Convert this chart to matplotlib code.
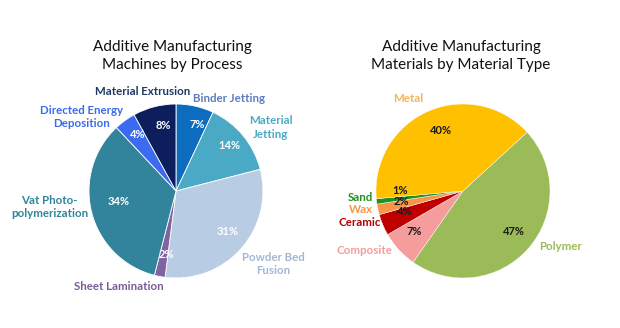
import matplotlib
matplotlib.use("Agg")
import matplotlib.pyplot as plt

plt.rcParams['font.family'] = ['Lato', 'DejaVu Sans']

# ---- Data ----
processes = ["Binder Jetting", "Material\nJetting", "Powder Bed\nFusion", "Sheet Lamination",
             "Vat Photo-\npolymerization", "Directed Energy\nDeposition", "Material Extrusion"]
process_pct = [7, 14, 31, 2, 34, 4, 8]

materials = ["Polymer", "Composite", "Ceramic", "Wax", "Sand", "Metal"]
material_pct = [47, 7, 4, 2, 1, 40]

# ---- Styles / layout ----
proc_colors = ["#0B6CC0", "#4AAAC6", "#B8CCE4", "#8064A2", "#31849B", "#3A6BF0", "#0C1E5B"]
proc_label_colors = ["#5A7DBE", "#4AAAC6", "#A3B7D3", "#7A5C9A", "#31849B", "#3A6BF0", "#1F3864"]
proc_label_pos = [(0.614, 1.06), (1.09, 0.73), (1.114, -0.84), (-0.66, -1.10),
                  (-1.455, -0.18), (-1.09, 0.85), (-0.386, 1.14)]
proc_pct_pos = [(0.239, 0.77), (0.614, 0.52), (0.59, -0.46), (-0.114, -0.73),
                (-0.66, -0.115), (-0.443, 0.645), (-0.148, 0.75)]

mat_colors = ["#9BBB59", "#F59C9C", "#C00000", "#F79646", "#23901F", "#FFC000"]
mat_label_colors = ["#9BBB59", "#F59C9C", "#B00000", "#F79646", "#23901F", "#F5B659"]
mat_label_pos = [(1.125, -0.64), (-1.136, -0.68), (-1.193, -0.36), (-1.17, -0.21),
                 (-1.18, -0.07), (-0.625, 1.06)]
mat_pct_pos = [(0.58, -0.47), (-0.557, -0.47), (-0.67, -0.24), (-0.705, -0.115),
               (-0.727, 0.0), (-0.25, 0.70)]

W, H = 620, 328
fig = plt.figure(figsize=(W / 100, H / 100), dpi=100)
fig.patch.set_facecolor("white")

R = 87

def make_ax(cx, cy):
    return fig.add_axes([(cx - R) / W, (H - cy - R) / H, 2 * R / W, 2 * R / H])

# Left pie
ax1 = make_ax(176, 191)
ax1.pie(process_pct, colors=proc_colors, startangle=90, counterclock=False, radius=1,
        wedgeprops=dict(edgecolor="white", linewidth=0.6))
ax1.set_xlim(-1, 1); ax1.set_ylim(-1, 1); ax1.set_aspect("equal"); ax1.axis("off")
for name, v, c, lp, pp in zip(processes, process_pct, proc_label_colors, proc_label_pos, proc_pct_pos):
    ax1.text(*lp, name, color=c, fontsize=8.3, fontweight="bold", ha="center", va="center",
             linespacing=1.25, clip_on=False)
    ax1.text(*pp, f"{v}%", color="white", fontsize=8, fontweight="bold", ha="center", va="center")

fig.text(172 / W, 1 - 56 / H, "Additive Manufacturing\nMachines by Process", ha="center",
         va="center", fontsize=11, linespacing=1.3, color="#111111")

# Right pie
ax2 = make_ax(463, 191)
ax2.pie(material_pct, colors=mat_colors, startangle=42.5, counterclock=False, radius=1,
        wedgeprops=dict(edgecolor="white", linewidth=0.3))
ax2.set_xlim(-1, 1); ax2.set_ylim(-1, 1); ax2.set_aspect("equal"); ax2.axis("off")
for name, v, c, lp, pp in zip(materials, material_pct, mat_label_colors, mat_label_pos, mat_pct_pos):
    ax2.text(*lp, name, color=c, fontsize=8.3, fontweight="bold", ha="center", va="center",
             clip_on=False)
    ax2.text(*pp, f"{v}%", color="#1A1A1A", fontsize=8, fontweight="bold", ha="center", va="center")

fig.text(461 / W, 1 - 56 / H, "Additive Manufacturing\nMaterials by Material Type", ha="center",
         va="center", fontsize=11, linespacing=1.3, color="#111111")

fig.savefig("out.png", dpi=100, facecolor="white")
